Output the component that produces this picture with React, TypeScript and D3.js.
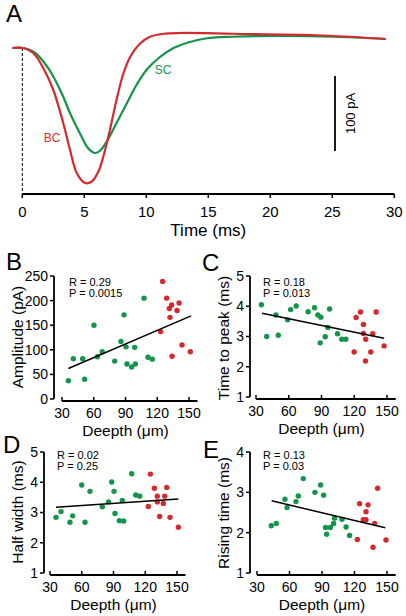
import React from "react";
import * as d3 from "d3";

// ---------- Panel A data ----------
const timeTicks = [0, 5, 10, 15, 20, 25, 30];
const bcTrace: [number, number][] = [
  [-0.8, 0], [0.1, 0], [0.9, -7], [1.7, -27], [2.5, -56], [3.3, -100], [3.85, -136],
  [4.4, -167], [5.06, -180], [5.6, -178], [6.13, -165], [6.53, -145], [7.07, -109],
  [7.6, -69], [8.15, -34], [8.7, -12], [9.5, 6], [10.3, 15], [11.4, 19], [12.7, 20],
  [17, 19], [23.7, 17], [29.3, 12],
];
const scTrace: [number, number][] = [
  [-0.8, 0], [0.1, 0], [0.9, -5], [1.7, -18], [2.5, -38], [3.3, -65], [3.85, -87],
  [4.65, -114], [5.33, -134], [5.86, -140], [6.27, -137], [6.8, -125], [7.6, -100],
  [8.42, -74], [9.22, -49], [10.03, -29], [11.1, -12], [12.2, 0], [13.3, 7],
  [14.9, 13], [17, 15], [21, 16], [25.1, 15], [29.3, 12],
];
const scaleBarPA = 100;

// ---------- Scatter data ----------
const depthTicks = [30, 60, 90, 120, 150];
const ampTicks = [0, 50, 100, 150, 200, 250];
const peakTicks = [1, 2, 3, 4, 5];
const halfTicks = [1, 2, 3, 4, 5];
const riseTicks = [1, 2, 3, 4];

const ampGreen: [number, number][] = [
  [36, 37], [40.7, 82], [49.5, 82], [51.4, 40], [60.2, 150], [63.4, 86], [68, 96],
  [79.8, 77], [85.7, 117], [88.6, 171], [90.5, 106], [91.4, 71], [95.8, 65],
  [98.7, 105], [99.3, 71], [107.5, 205], [111.3, 85], [115.3, 81],
];
const ampRed: [number, number][] = [
  [125.1, 239], [128.9, 205], [123.2, 137], [131.4, 184], [133.6, 191], [132, 166],
  [138.7, 180], [140.6, 195], [134, 87], [143.4, 110], [151.2, 96],
];
const ampFit: [number, number][] = [[36, 62], [152, 169]];

const peakGreen: [number, number][] = [
  [34.9, 4.05], [39.8, 3.0], [48.3, 3.71], [50.4, 3.04], [59, 3.55], [61.7, 3.89],
  [66.8, 4.01], [77.8, 3.82], [83.6, 3.95], [86.7, 3.71], [89.4, 3.64], [88.8, 2.79],
  [93.4, 2.99], [95.8, 3.3], [97.4, 3.91], [104.7, 3.09], [108.6, 2.91], [112.3, 2.91],
];
const peakRed: [number, number][] = [
  [119.9, 2.49], [121.7, 3.63], [125.7, 3.81], [128.4, 3.4], [128.4, 3.1], [130.5, 2.91],
  [130.3, 2.19], [135.1, 2.49], [137, 3.09], [140, 3.81], [147.3, 2.69],
];
const peakFit: [number, number][] = [[35.5, 3.77], [147.3, 2.94]];

const halfGreen: [number, number][] = [
  [35.7, 2.84], [40.4, 3.03], [48.9, 2.68], [51.4, 2.89], [60, 3.91], [63.1, 2.68],
  [67.8, 3.7], [79.4, 3.19], [85.4, 3.35], [88.3, 4.01], [90.5, 3.7], [91.4, 2.97],
  [95.5, 2.73], [98.3, 3.4], [99.6, 2.72], [107.2, 4.28], [111, 3.58], [114.8, 3.54],
];
const halfRed: [number, number][] = [
  [122.9, 3.2], [124.8, 4.27], [128.6, 3.8], [131.4, 3.54], [131.4, 3.35], [133.6, 2.87],
  [137.1, 3.3], [138.4, 3.54], [140.3, 3.83], [143.4, 2.84], [151.3, 2.51],
];
const halfFit: [number, number][] = [[35.7, 3.17], [151.3, 3.45]];

const riseGreen: [number, number][] = [
  [43.2, 2.17], [47.8, 2.23], [55.8, 2.83], [57.7, 2.62], [66, 2.77], [68.1, 2.91],
  [72.7, 3.34], [83.5, 3.0], [88.7, 3.18], [91.5, 2.93], [93.3, 2.13], [94.3, 1.96],
  [97.7, 2.13], [100.7, 2.23], [101.6, 2.36], [108.5, 2.33], [112.2, 2.14], [115.5, 1.93],
];
const riseRed: [number, number][] = [
  [122.6, 1.83], [124.7, 2.72], [130.6, 2.52], [128.1, 2.32], [130.6, 2.32], [132.5, 2.69],
  [138.6, 2.23], [141.3, 3.1], [149.1, 1.82], [137.1, 1.64],
];
const riseFit: [number, number][] = [[43.5, 2.79], [148.4, 2.12]];

const RED = "#d42a2e";
const GREEN = "#12954a";
const FONT = "'Liberation Sans', Arial, sans-serif";

type PanelProps = {
  letter: string;
  letterX: number;
  letterY: number;
  xRange: [number, number];
  yDomain: [number, number];
  yRange: [number, number];
  yTicks: number[];
  axisX: number;
  green: [number, number][];
  red: [number, number][];
  fit: [number, number][];
  yTitle: string;
  yTitleX: number;
  yTitleY: number;
  statR: string;
  statP: string;
  statX: number;
  statY: number;
};

function Scatter(p: PanelProps) {
  const xs = d3.scaleLinear().domain([30, 150]).range(p.xRange);
  const ys = d3.scaleLinear().domain(p.yDomain).range(p.yRange);
  const axisY = ys(p.yDomain[0]) + 2;
  const line = d3.line<[number, number]>().x((d) => xs(d[0])).y((d) => ys(d[1]));
  return (
    <g fontFamily={FONT}>
      <text x={p.letterX} y={p.letterY} fontSize={24} dy="0.35em">{p.letter}</text>
      {/* y axis */}
      <line x1={p.axisX} x2={p.axisX} y1={ys(p.yDomain[1])} y2={ys(p.yDomain[0])} stroke="#000" strokeWidth={1.8} />
      {p.yTicks.map((t) => (
        <g key={t}>
          <line x1={p.axisX - 4} x2={p.axisX} y1={ys(t)} y2={ys(t)} stroke="#000" strokeWidth={1.5} />
          <text x={p.axisX - 6} y={ys(t)} dy="0.35em" textAnchor="end" fontSize={14}>{t}</text>
        </g>
      ))}
      {/* x axis */}
      <line x1={xs(30)} x2={xs(158)} y1={axisY} y2={axisY} stroke="#000" strokeWidth={1.8} />
      {depthTicks.map((t) => (
        <g key={t}>
          <line x1={xs(t)} x2={xs(t)} y1={axisY} y2={axisY - 4} stroke="#000" strokeWidth={1.5} />
          <text x={xs(t)} y={axisY + 12} dy="0.35em" textAnchor="middle" fontSize={14}>{t}</text>
        </g>
      ))}
      <text x={(xs(30) + xs(150)) / 2} y={axisY + 30} dy="0.35em" textAnchor="middle" fontSize={15.5}>Deepth (μm)</text>
      <text transform={`translate(${p.yTitleX},${p.yTitleY}) rotate(-90)`} dy="0.35em" textAnchor="middle" fontSize={15.5}>{p.yTitle}</text>
      <text x={p.statX} y={p.statY} dy="0.35em" fontSize={11}>{p.statR}</text>
      <text x={p.statX} y={p.statY + 11} dy="0.35em" fontSize={11}>{p.statP}</text>
      {p.green.map((d, i) => (
        <circle key={"g" + i} cx={xs(d[0])} cy={ys(d[1])} r={2.7} fill={GREEN} />
      ))}
      {p.red.map((d, i) => (
        <circle key={"r" + i} cx={xs(d[0])} cy={ys(d[1])} r={2.7} fill={RED} />
      ))}
      <path d={line(p.fit) || ""} stroke="#000" strokeWidth={1.5} fill="none" />
    </g>
  );
}

function PanelA() {
  const xs = d3.scaleLinear().domain([0, 30]).range([22.3, 394.3]);
  const ys = d3.scaleLinear().domain([-195, 25]).range([194.25, 29.25]);
  const line = d3.line<[number, number]>().x((d) => xs(d[0])).y((d) => ys(d[1])).curve(d3.curveCatmullRom.alpha(0.5));
  const axisY = 194;
  const barX = 335;
  const barTop = 76;
  const barBottom = barTop + (ys(-scaleBarPA) - ys(0));
  return (
    <g fontFamily={FONT}>
      <text x={6} y={14} fontSize={24} dy="0.35em">A</text>
      <line x1={xs(0)} x2={xs(0)} y1={ys(0)} y2={axisY} stroke="#000" strokeWidth={1} strokeDasharray="3,2" />
      <path d={line(scTrace) || ""} stroke={GREEN} strokeWidth={2.2} fill="none" />
      <path d={line(bcTrace) || ""} stroke={RED} strokeWidth={2.2} fill="none" />
      <line x1={xs(0)} x2={xs(30)} y1={axisY} y2={axisY} stroke="#000" strokeWidth={1.8} />
      {timeTicks.map((t) => (
        <g key={t}>
          <line x1={xs(t)} x2={xs(t)} y1={axisY} y2={axisY + 4} stroke="#000" strokeWidth={1.5} />
          <text x={xs(t)} y={212} dy="0.35em" textAnchor="middle" fontSize={15}>{t}</text>
        </g>
      ))}
      <text x={(xs(0) + xs(30)) / 2} y={230} dy="0.35em" textAnchor="middle" fontSize={17}>Time (ms)</text>
      <line x1={barX} x2={barX} y1={barTop} y2={barBottom} stroke="#000" strokeWidth={1.8} />
      <text transform={`translate(${barX + 15},${(barTop + barBottom) / 2}) rotate(-90)`} dy="0.35em" textAnchor="middle" fontSize={13}>100 pA</text>
      <text x={52} y={138} dy="0.35em" textAnchor="middle" fontSize={12} fill={RED}>BC</text>
      <text x={163} y={70} dy="0.35em" textAnchor="middle" fontSize={12} fill={GREEN}>SC</text>
    </g>
  );
}

export default function App() {
  return (
    <svg width={406} height={616} style={{ position: "absolute", left: 0, top: 0, background: "#fff" }}>
      <rect width={406} height={616} fill="#fff" />
      <PanelA />
      <Scatter letter="B" letterX={6} letterY={262} xRange={[62, 189]} yDomain={[0, 250]} yRange={[399, 276]}
        yTicks={ampTicks} axisX={54} green={ampGreen} red={ampRed} fit={ampFit}
        yTitle="Amplitude (pA)" yTitleX={18} yTitleY={337} statR="R = 0.29" statP="P = 0.0015" statX={69} statY={282} />
      <Scatter letter="C" letterX={202} letterY={263} xRange={[256, 387]} yDomain={[1, 5]} yRange={[397, 276]}
        yTicks={peakTicks} axisX={250} green={peakGreen} red={peakRed} fit={peakFit}
        yTitle="Time to peak (ms)" yTitleX={224} yTitleY={338} statR="R = 0.18" statP="P = 0.013" statX={263} statY={282} />
      <Scatter letter="D" letterX={3} letterY={445} xRange={[50, 177]} yDomain={[1, 5]} yRange={[573, 452]}
        yTicks={halfTicks} axisX={44} green={halfGreen} red={halfRed} fit={halfFit}
        yTitle="Half width (ms)" yTitleX={18} yTitleY={512} statR="R = 0.02" statP="P = 0.25" statX={57} statY={455} />
      <Scatter letter="E" letterX={203} letterY={450} xRange={[257, 387]} yDomain={[1, 4]} yRange={[573, 452]}
        yTicks={riseTicks} axisX={250} green={riseGreen} red={riseRed} fit={riseFit}
        yTitle="Rising time (ms)" yTitleX={224} yTitleY={513} statR="R = 0.13" statP="P = 0.03" statX={263} statY={455} />
    </svg>
  );
}
